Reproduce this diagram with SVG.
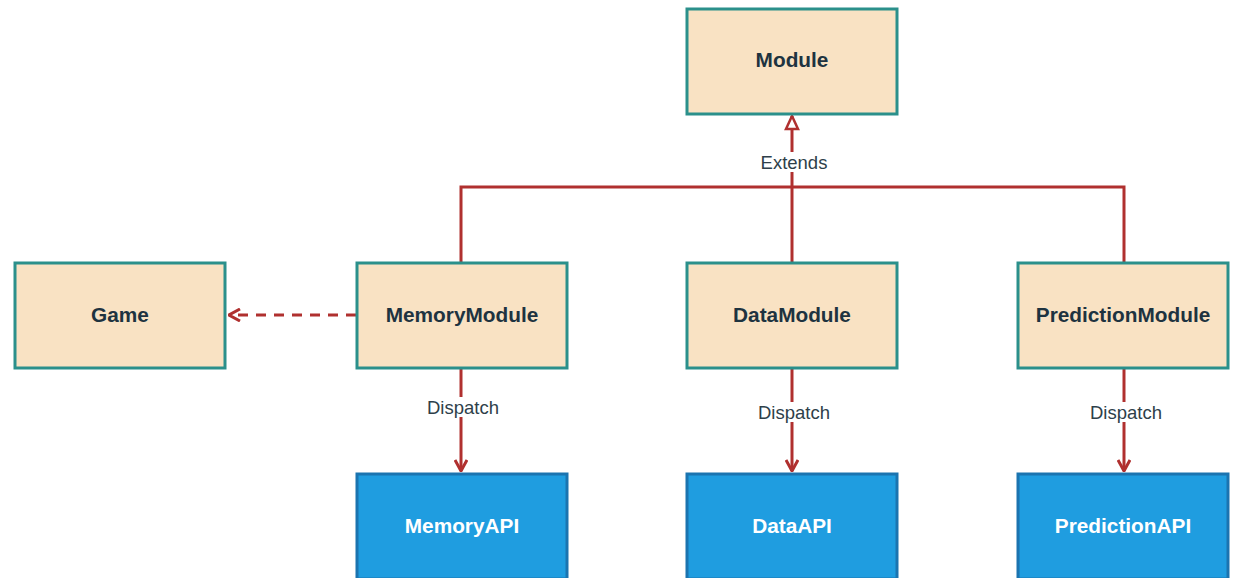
<svg xmlns="http://www.w3.org/2000/svg" width="1233" height="578" viewBox="0 0 1233 578">
  <style>
    .mod rect { fill: #f9e2c3; stroke: #2b908b; stroke-width: 3; }
    .api rect { fill: #1f9de0; stroke: #1b74b0; stroke-width: 3; }
    .mod text { fill: #1e3340; font: bold 20.8px "Liberation Sans", Arial, sans-serif; text-anchor: middle; }
    .api text { fill: #ffffff; font: bold 20.8px "Liberation Sans", Arial, sans-serif; text-anchor: middle; }
    .edge { fill: none; stroke: #b0302f; stroke-width: 3; }
    .dash { stroke-dasharray: 10 8; }
    .lbl { fill: #2e3f4a; font: 18.5px "Liberation Sans", Arial, sans-serif; text-anchor: middle; }
    .lblbg { fill: #ffffff; }
  </style>
  <defs>
    <marker id="open" viewBox="0 0 14 14" refX="13" refY="7" markerWidth="14" markerHeight="14" markerUnits="userSpaceOnUse" orient="auto">
      <path d="M2,1 L13,7 L2,13" fill="none" stroke="#b0302f" stroke-width="3"/>
    </marker>
    <marker id="tri" viewBox="0 0 16 16" refX="15" refY="8" markerWidth="16" markerHeight="16" markerUnits="userSpaceOnUse" orient="auto">
      <path d="M2,2 L15,8 L2,14 Z" fill="#ffffff" stroke="#b0302f" stroke-width="2.5"/>
    </marker>
  </defs>

  <g id="connectors">
    <!-- inheritance tree -->
    <path class="edge" d="M461,262 V187 H1124 V262"/>
    <path class="edge" d="M792,262 V116" marker-end="url(#tri)"/>
    <!-- dependency -->
    <path class="edge dash" d="M356,315 H229" marker-end="url(#open)"/>
    <!-- dispatch -->
    <path class="edge" d="M461,369 V471" marker-end="url(#open)"/>
    <path class="edge" d="M792,369 V471" marker-end="url(#open)"/>
    <path class="edge" d="M1124,369 V471" marker-end="url(#open)"/>
    <!-- labels -->
    <rect class="lblbg" x="756" y="152" width="76" height="20"/>
    <text class="lbl" x="794" y="169">Extends</text>
    <rect class="lblbg" x="423" y="397" width="82" height="20"/>
    <text class="lbl" x="463" y="414">Dispatch</text>
    <rect class="lblbg" x="754" y="402" width="82" height="20"/>
    <text class="lbl" x="794" y="419">Dispatch</text>
    <rect class="lblbg" x="1086" y="402" width="82" height="20"/>
    <text class="lbl" x="1126" y="419">Dispatch</text>
  </g>

  <g id="Module" class="mod">
    <rect x="687" y="9" width="210" height="105"/>
    <text x="792" y="67">Module</text>
  </g>
  <g id="Game" class="mod">
    <rect x="15" y="263" width="210" height="105"/>
    <text x="120" y="322">Game</text>
  </g>
  <g id="MemoryModule" class="mod">
    <rect x="357" y="263" width="210" height="105"/>
    <text x="462" y="322">MemoryModule</text>
  </g>
  <g id="DataModule" class="mod">
    <rect x="687" y="263" width="210" height="105"/>
    <text x="792" y="322">DataModule</text>
  </g>
  <g id="PredictionModule" class="mod">
    <rect x="1018" y="263" width="210" height="105"/>
    <text x="1123" y="322">PredictionModule</text>
  </g>
  <g id="MemoryAPI" class="api">
    <rect x="357" y="474" width="210" height="105"/>
    <text x="462" y="533">MemoryAPI</text>
  </g>
  <g id="DataAPI" class="api">
    <rect x="687" y="474" width="210" height="105"/>
    <text x="792" y="533">DataAPI</text>
  </g>
  <g id="PredictionAPI" class="api">
    <rect x="1018" y="474" width="210" height="105"/>
    <text x="1123" y="533">PredictionAPI</text>
  </g>
</svg>
